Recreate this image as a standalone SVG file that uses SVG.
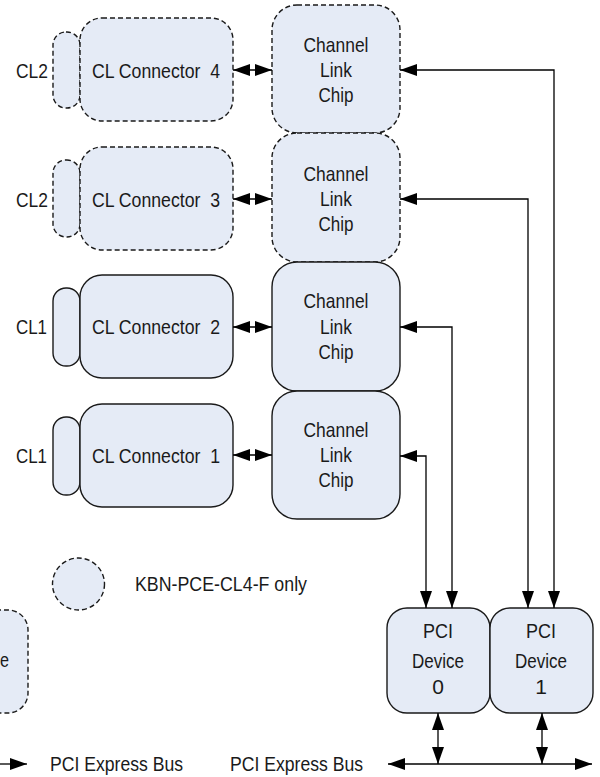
<svg xmlns="http://www.w3.org/2000/svg" width="600" height="777" viewBox="0 0 600 777">
<style>
.box{fill:#e5ebf6;stroke:#1a1a1a;stroke-width:1.4}
.dash{stroke-dasharray:5,3}
.t{font-family:'Liberation Sans Narrow','Liberation Sans',Arial,sans-serif;font-size:21px;fill:#1a1a1a}
.c{text-anchor:middle}
.ln{fill:none;stroke:#000;stroke-width:1.3}
</style>
<defs>
<marker id="ah" markerUnits="userSpaceOnUse" markerWidth="18" markerHeight="13" refX="17" refY="6" orient="auto-start-reverse">
<path d="M0,0 L17,6 L0,12 z" fill="#000"/>
</marker>
</defs>
<rect width="600" height="777" fill="#fff"/>

<g id="conn4">
<rect class="box dash" x="53" y="32" width="27" height="76" rx="13"/>
<rect class="box dash" x="80" y="18" width="153" height="103" rx="22"/>
<text class="t" x="16" y="78" textLength="32" lengthAdjust="spacingAndGlyphs">CL2</text>
<text class="t" x="92" y="78" textLength="128" lengthAdjust="spacingAndGlyphs" xml:space="preserve">CL Connector  4</text>
</g>
<g id="conn3">
<rect class="box dash" x="53" y="160" width="27" height="77" rx="13"/>
<rect class="box dash" x="80" y="147" width="153" height="103" rx="22"/>
<text class="t" x="16" y="207" textLength="32" lengthAdjust="spacingAndGlyphs">CL2</text>
<text class="t" x="92" y="207" textLength="128" lengthAdjust="spacingAndGlyphs" xml:space="preserve">CL Connector  3</text>
</g>
<g id="conn2">
<rect class="box" x="53" y="288" width="27" height="78" rx="13"/>
<rect class="box" x="80" y="275" width="153" height="103" rx="22"/>
<text class="t" x="16" y="334" textLength="31" lengthAdjust="spacingAndGlyphs">CL1</text>
<text class="t" x="92" y="334" textLength="128" lengthAdjust="spacingAndGlyphs" xml:space="preserve">CL Connector  2</text>
</g>
<g id="conn1">
<rect class="box" x="53" y="417" width="27" height="78" rx="13"/>
<rect class="box" x="80" y="404" width="153" height="103" rx="22"/>
<text class="t" x="16" y="463" textLength="31" lengthAdjust="spacingAndGlyphs">CL1</text>
<text class="t" x="92" y="463" textLength="128" lengthAdjust="spacingAndGlyphs" xml:space="preserve">CL Connector  1</text>
</g>

<g id="chip4">
<rect class="box dash" x="272" y="5" width="128" height="128" rx="25"/>
<text class="t c" x="336" y="52" textLength="65" lengthAdjust="spacingAndGlyphs">Channel</text>
<text class="t c" x="336" y="77" textLength="32" lengthAdjust="spacingAndGlyphs">Link</text>
<text class="t c" x="336" y="102" textLength="35" lengthAdjust="spacingAndGlyphs">Chip</text>
</g>
<g id="chip3">
<rect class="box dash" x="272" y="133" width="128" height="129" rx="25"/>
<text class="t c" x="336" y="181" textLength="65" lengthAdjust="spacingAndGlyphs">Channel</text>
<text class="t c" x="336" y="206" textLength="32" lengthAdjust="spacingAndGlyphs">Link</text>
<text class="t c" x="336" y="231" textLength="35" lengthAdjust="spacingAndGlyphs">Chip</text>
</g>
<g id="chip2">
<rect class="box" x="272" y="262" width="128" height="129" rx="25"/>
<text class="t c" x="336" y="308" textLength="65" lengthAdjust="spacingAndGlyphs">Channel</text>
<text class="t c" x="336" y="334" textLength="32" lengthAdjust="spacingAndGlyphs">Link</text>
<text class="t c" x="336" y="359" textLength="35" lengthAdjust="spacingAndGlyphs">Chip</text>
</g>
<g id="chip1">
<rect class="box" x="272" y="391" width="128" height="128" rx="25"/>
<text class="t c" x="336" y="437" textLength="65" lengthAdjust="spacingAndGlyphs">Channel</text>
<text class="t c" x="336" y="462" textLength="32" lengthAdjust="spacingAndGlyphs">Link</text>
<text class="t c" x="336" y="487" textLength="35" lengthAdjust="spacingAndGlyphs">Chip</text>
</g>

<g id="pci0">
<rect class="box" x="387" y="608" width="103" height="105" rx="20"/>
<text class="t c" x="438" y="638" textLength="30" lengthAdjust="spacingAndGlyphs">PCI</text>
<text class="t c" x="438" y="668" textLength="52" lengthAdjust="spacingAndGlyphs">Device</text>
<text class="t c" x="438" y="694">0</text>
</g>
<g id="pci1">
<rect class="box" x="490" y="608" width="103" height="105" rx="20"/>
<text class="t c" x="541" y="638" textLength="30" lengthAdjust="spacingAndGlyphs">PCI</text>
<text class="t c" x="541" y="668" textLength="52" lengthAdjust="spacingAndGlyphs">Device</text>
<text class="t c" x="541" y="694">1</text>
</g>

<g id="legend">
<circle class="box dash" cx="78.5" cy="584" r="26"/>
<text class="t" x="135" y="591" textLength="172" lengthAdjust="spacingAndGlyphs">KBN-PCE-CL4-F only</text>
<rect class="box dash" x="-80" y="610" width="108" height="103" rx="20"/>
<text class="t" x="0" y="667" textLength="9" lengthAdjust="spacingAndGlyphs">e</text>
<line class="ln" x1="-5" y1="764" x2="27" y2="764" stroke-width="2" marker-end="url(#ah)"/>
<text class="t" x="50" y="771" textLength="133" lengthAdjust="spacingAndGlyphs">PCI Express Bus</text>
<text class="t" x="230" y="771" textLength="133" lengthAdjust="spacingAndGlyphs">PCI Express Bus</text>
</g>

<g id="connectors">
<line class="ln" x1="233" y1="70" x2="272" y2="70" marker-start="url(#ah)" marker-end="url(#ah)"/>
<line class="ln" x1="233" y1="199" x2="272" y2="199" marker-start="url(#ah)" marker-end="url(#ah)"/>
<line class="ln" x1="233" y1="327" x2="272" y2="327" marker-start="url(#ah)" marker-end="url(#ah)"/>
<line class="ln" x1="233" y1="455" x2="272" y2="455" marker-start="url(#ah)" marker-end="url(#ah)"/>
<path class="ln" d="M400,70 H554 V608" marker-start="url(#ah)" marker-end="url(#ah)"/>
<path class="ln" d="M400,199 H528 V608" marker-start="url(#ah)" marker-end="url(#ah)"/>
<path class="ln" d="M400,327 H452 V608" marker-start="url(#ah)" marker-end="url(#ah)"/>
<path class="ln" d="M400,456 H426 V608" marker-start="url(#ah)" marker-end="url(#ah)"/>
<line class="ln" x1="438" y1="713" x2="438" y2="764" marker-start="url(#ah)" marker-end="url(#ah)"/>
<line class="ln" x1="542" y1="713" x2="542" y2="764" marker-start="url(#ah)" marker-end="url(#ah)"/>
<line class="ln" x1="388" y1="764" x2="592" y2="764" stroke-width="2" marker-start="url(#ah)" marker-end="url(#ah)"/>
</g>
</svg>
